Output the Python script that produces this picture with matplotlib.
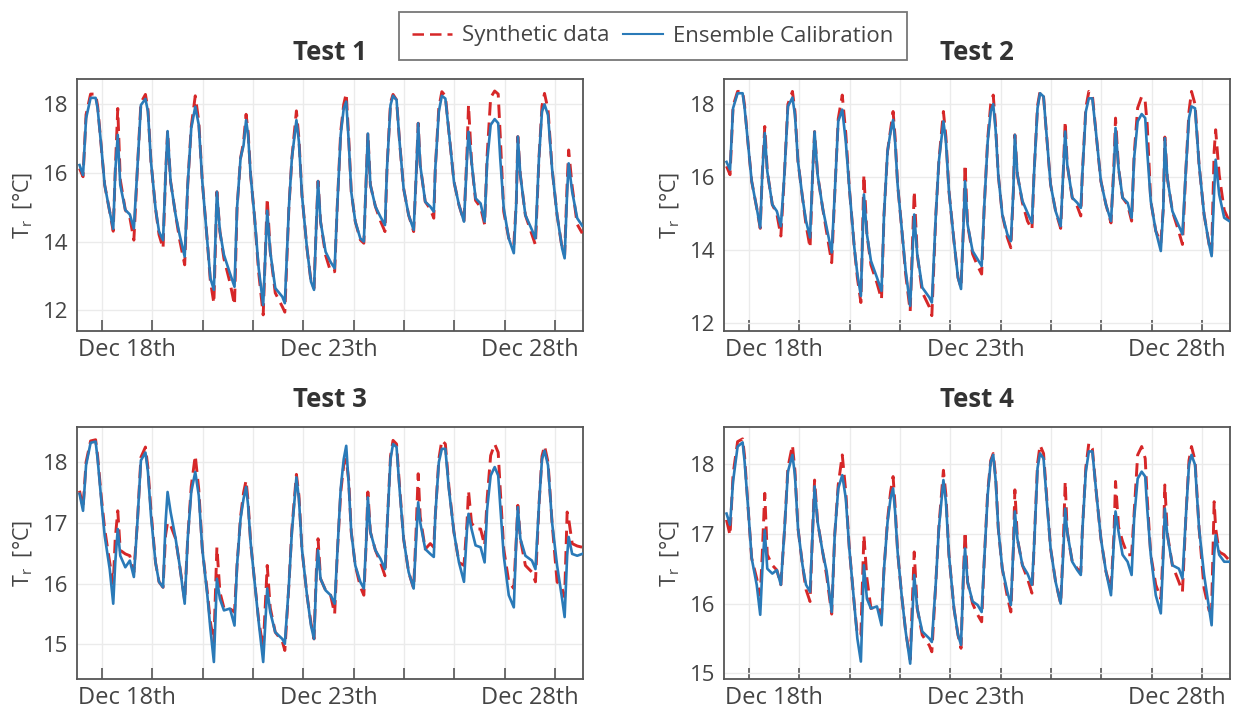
import matplotlib.pyplot as plt
from matplotlib.lines import Line2D

plt.rcParams['font.family'] = ['Open Sans', 'DejaVu Sans']
plt.rcParams['mathtext.default'] = 'regular'

# -----------------------------
# Data: room temperature, one reading list per series
# time in days, integer values sit on the daily grid lines
# -----------------------------
t_days = [
    -0.45, -0.38, -0.32, -0.23, -0.13, -0.09, -0.02,
    0.05, 0.15, 0.22, 0.26, 0.31, 0.36, 0.46, 0.55, 0.63, 0.70, 0.77, 0.86, 0.91, 0.97,
    1.06, 1.13, 1.21, 1.26, 1.30, 1.36, 1.46, 1.54, 1.64, 1.70, 1.77, 1.85, 1.92, 1.99,
    2.09, 2.15, 2.22, 2.28, 2.34, 2.42, 2.54, 2.63, 2.68, 2.75, 2.81, 2.86, 2.90, 2.95,
    3.03, 3.11, 3.20, 3.28, 3.34, 3.44, 3.58, 3.63, 3.71, 3.77, 3.86, 3.91, 3.97,
    4.07, 4.15, 4.21, 4.26, 4.29, 4.34, 4.44, 4.54, 4.62, 4.67, 4.74, 4.80, 4.85, 4.90, 4.95,
    5.03, 5.13, 5.20, 5.25, 5.28, 5.33, 5.43, 5.53, 5.62, 5.66, 5.73, 5.78, 5.85, 5.91, 5.99,
    6.09, 6.19, 6.24, 6.28, 6.32, 6.42, 6.52, 6.59, 6.62, 6.69, 6.75, 6.82, 6.89, 6.99,
    7.09, 7.19, 7.25, 7.28, 7.34, 7.42, 7.52, 7.60, 7.65, 7.72, 7.80, 7.87, 7.91, 7.98,
    8.08, 8.18, 8.23, 8.26, 8.31, 8.41, 8.54, 8.61, 8.68, 8.74, 8.79, 8.86, 8.94,
    9.04, 9.14, 9.19, 9.24, 9.27, 9.34, 9.44, 9.54,
]

test1_synthetic = [
    16.13, 15.89, 17.70, 18.30, 18.30, 17.95, 16.81,
    15.65, 14.87, 14.30, 16.04, 17.88, 15.80, 14.92, 14.70, 14.04, 16.13, 18.05, 18.29, 17.85, 16.33,
    14.97, 14.20, 13.80, 15.94, 17.22, 15.75, 14.77, 14.05, 13.32, 15.65, 17.35, 18.25, 17.50, 15.75,
    14.00, 12.85, 12.20, 15.45, 14.29, 13.50, 12.80, 12.15, 14.97, 16.43, 16.90, 17.71, 17.20, 15.94,
    14.68, 13.10, 11.86, 15.26, 13.70, 12.50, 12.10, 11.94, 14.97, 16.43, 17.81, 17.00, 15.36,
    13.80, 12.83, 12.64, 14.68, 15.76, 14.58, 13.60, 13.12, 13.12, 14.97, 17.20, 18.00, 18.32, 17.00, 15.45,
    14.58, 14.05, 13.95, 15.94, 17.15, 15.65, 15.02, 14.60, 14.29, 16.13, 18.05, 18.29, 18.13, 16.91, 15.55,
    14.77, 14.29, 15.94, 17.45, 16.23, 15.16, 14.95, 14.68, 16.13, 17.90, 18.37, 18.25, 17.20, 15.75,
    15.07, 14.58, 16.60, 17.98, 16.33, 15.20, 15.00, 14.50, 16.50, 18.20, 18.39, 18.30, 17.11, 14.87,
    14.09, 13.90, 15.16, 17.06, 15.94, 14.77, 14.20, 13.90, 16.43, 17.95, 18.32, 17.85, 16.13,
    14.77, 13.80, 13.60, 15.70, 16.67, 15.60, 14.50, 14.24,
]
test1_ensemble = [
    16.23, 15.94, 17.59, 18.19, 18.19, 17.88, 16.81,
    15.65, 14.87, 14.37, 16.04, 17.11, 15.65, 14.92, 14.79, 14.38, 16.13, 17.98, 18.16, 17.79, 16.33,
    14.97, 14.29, 14.04, 15.94, 17.22, 15.75, 14.77, 14.19, 13.56, 15.65, 17.30, 17.93, 17.40, 15.75,
    14.00, 12.93, 12.59, 15.45, 14.29, 13.61, 13.07, 12.68, 14.97, 16.43, 16.81, 17.54, 17.11, 15.94,
    14.68, 13.22, 12.15, 14.90, 13.70, 12.64, 12.39, 12.20, 14.97, 16.43, 17.54, 16.91, 15.36,
    13.80, 12.83, 12.59, 14.68, 15.76, 14.58, 13.70, 13.40, 13.22, 14.97, 17.11, 17.88, 18.08, 16.91, 15.45,
    14.58, 14.09, 14.00, 15.94, 17.15, 15.65, 15.02, 14.72, 14.48, 16.13, 17.98, 18.25, 18.13, 16.91, 15.55,
    14.77, 14.34, 15.94, 17.45, 16.23, 15.16, 15.02, 14.87, 16.13, 17.79, 18.25, 18.17, 17.20, 15.75,
    15.07, 14.58, 16.43, 17.20, 16.33, 15.26, 15.11, 14.58, 16.33, 17.40, 17.57, 17.45, 16.43, 14.97,
    14.09, 13.66, 15.16, 17.06, 15.94, 14.77, 14.34, 14.09, 16.43, 17.79, 18.00, 17.69, 16.13,
    14.77, 13.80, 13.51, 15.45, 16.28, 15.45, 14.68, 14.46,
]

test2_synthetic = [
    16.30, 16.07, 17.95, 18.35, 18.35, 17.95, 16.89,
    15.89, 15.16, 14.60, 16.07, 17.39, 16.16, 15.25, 15.00, 14.39, 16.07, 18.00, 18.35, 17.80, 16.44,
    15.44, 14.70, 14.07, 16.07, 17.25, 16.07, 15.16, 14.50, 13.66, 15.53, 17.60, 18.25, 17.20, 15.71,
    14.07, 13.25, 12.57, 16.07, 14.44, 13.60, 13.10, 12.66, 14.98, 16.71, 17.30, 17.80, 17.10, 15.80,
    14.62, 13.35, 12.33, 15.62, 13.89, 12.85, 12.45, 12.21, 14.98, 16.44, 17.80, 17.10, 15.62,
    14.25, 13.25, 12.98, 14.71, 16.35, 14.71, 13.90, 13.57, 13.35, 15.16, 17.05, 18.00, 18.25, 17.35, 16.07,
    14.98, 14.35, 14.07, 15.62, 17.16, 16.07, 15.30, 14.80, 14.57, 16.07, 17.95, 18.35, 18.21, 17.16, 15.80,
    15.07, 14.60, 16.07, 17.53, 16.35, 15.44, 15.20, 14.94, 16.07, 17.90, 18.35, 18.25, 17.25, 15.89,
    15.25, 14.75, 16.40, 17.62, 16.25, 15.44, 15.25, 14.80, 16.60, 17.90, 18.21, 18.07, 17.44, 15.35,
    14.53, 14.20, 15.16, 17.10, 15.98, 15.07, 14.50, 14.16, 16.25, 17.80, 18.35, 18.00, 16.35,
    14.98, 14.16, 13.90, 16.71, 17.30, 16.07, 15.10, 14.80,
]
test2_ensemble = [
    16.42, 16.21, 17.89, 18.30, 18.30, 17.89, 16.89,
    15.89, 15.16, 14.62, 16.07, 17.21, 16.16, 15.25, 15.07, 14.66, 16.07, 17.94, 18.18, 17.71, 16.44,
    15.44, 14.80, 14.35, 16.07, 17.25, 16.07, 15.16, 14.62, 13.94, 15.53, 17.53, 17.85, 16.98, 15.71,
    14.07, 13.35, 12.75, 15.53, 14.44, 13.71, 13.25, 12.89, 14.98, 16.71, 17.25, 17.57, 16.98, 15.80,
    14.62, 13.44, 12.48, 14.98, 13.89, 12.98, 12.71, 12.57, 14.98, 16.44, 17.53, 16.98, 15.62,
    14.25, 13.25, 12.94, 14.71, 15.89, 14.71, 13.98, 13.75, 13.57, 15.16, 16.98, 17.80, 18.00, 17.25, 16.07,
    14.98, 14.44, 14.25, 15.62, 17.16, 16.07, 15.35, 15.03, 14.75, 16.07, 17.89, 18.30, 18.21, 17.16, 15.80,
    15.07, 14.66, 16.07, 17.25, 16.35, 15.44, 15.30, 15.16, 16.07, 17.80, 18.16, 18.16, 17.25, 15.89,
    15.25, 14.80, 16.25, 17.35, 16.25, 15.44, 15.30, 14.89, 16.53, 17.53, 17.73, 17.62, 16.71, 15.35,
    14.53, 13.98, 15.16, 17.07, 15.98, 15.07, 14.66, 14.44, 16.25, 17.62, 17.94, 17.89, 16.35,
    14.98, 14.16, 13.84, 15.62, 16.48, 15.53, 14.89, 14.80,
]

test3_synthetic = [
    17.53, 17.25, 18.00, 18.35, 18.37, 18.10, 17.45,
    16.90, 16.35, 16.00, 16.74, 17.20, 16.55, 16.49, 16.46, 16.19, 17.01, 18.08, 18.25, 17.90, 17.20,
    16.35, 16.03, 15.94, 16.80, 17.01, 16.96, 16.74, 16.30, 15.72, 16.74, 17.60, 18.11, 17.55, 16.57,
    15.86, 15.37, 15.04, 16.60, 15.86, 15.60, 15.59, 15.53, 16.30, 17.10, 17.50, 17.70, 17.35, 16.68,
    16.03, 15.40, 14.93, 16.30, 15.60, 15.20, 15.05, 14.90, 15.97, 16.90, 17.80, 17.45, 16.57,
    15.81, 15.35, 15.09, 16.30, 16.74, 16.08, 15.89, 15.81, 15.50, 16.46, 17.50, 17.95, 18.05, 17.70, 16.85,
    16.30, 15.95, 15.81, 16.74, 17.51, 16.85, 16.55, 16.35, 16.13, 16.90, 18.10, 18.36, 18.30, 17.60, 16.74,
    16.19, 15.92, 16.90, 17.81, 17.10, 16.57, 16.66, 16.60, 17.12, 18.05, 18.36, 18.30, 17.60, 16.85,
    16.35, 16.30, 17.00, 17.53, 17.00, 16.90, 16.90, 16.63, 17.40, 18.11, 18.30, 18.16, 17.56, 16.57,
    16.03, 15.92, 16.74, 17.29, 16.74, 16.30, 16.19, 16.03, 17.29, 18.10, 18.27, 18.00, 17.01,
    16.03, 15.92, 15.78, 17.18, 17.07, 16.66, 16.62, 16.60,
]
test3_ensemble = [
    17.48, 17.20, 17.95, 18.32, 18.34, 18.05, 17.40,
    16.79, 16.24, 15.67, 16.35, 16.90, 16.46, 16.27, 16.38, 16.11, 17.01, 18.03, 18.16, 17.84, 17.12,
    16.35, 16.03, 15.94, 17.01, 17.51, 17.18, 16.74, 16.30, 15.67, 16.74, 17.51, 17.84, 17.45, 16.57,
    15.81, 15.26, 14.71, 16.08, 15.75, 15.56, 15.59, 15.31, 16.30, 17.07, 17.40, 17.59, 17.29, 16.68,
    16.03, 15.37, 14.71, 15.92, 15.53, 15.20, 15.09, 15.01, 15.97, 16.85, 17.75, 17.40, 16.57,
    15.81, 15.31, 15.09, 16.19, 16.55, 16.08, 15.89, 15.81, 15.67, 16.46, 17.56, 18.05, 18.27, 17.62, 16.85,
    16.30, 16.03, 15.92, 16.74, 17.42, 16.85, 16.55, 16.41, 16.24, 16.90, 18.05, 18.30, 18.25, 17.56, 16.74,
    16.19, 15.92, 16.74, 17.34, 17.01, 16.57, 16.49, 16.44, 17.12, 18.00, 18.22, 18.22, 17.56, 16.85,
    16.35, 16.03, 16.90, 17.15, 16.90, 16.63, 16.60, 16.35, 17.23, 17.78, 17.92, 17.78, 17.29, 16.46,
    15.81, 15.61, 16.74, 17.26, 16.74, 16.46, 16.38, 16.24, 17.29, 18.05, 18.19, 17.95, 17.01,
    16.30, 15.75, 15.45, 16.46, 16.77, 16.49, 16.46, 16.49,
]

test4_synthetic = [
    17.20, 16.98, 17.85, 18.32, 18.36, 18.10, 17.36,
    16.65, 16.36, 16.12, 16.70, 17.58, 16.70, 16.55, 16.48, 16.27, 17.03, 17.95, 18.27, 17.90, 17.08,
    16.55, 16.20, 16.03, 17.03, 17.77, 17.17, 16.74, 16.40, 15.85, 16.98, 17.70, 18.13, 17.60, 16.79,
    15.98, 15.55, 15.55, 16.98, 16.36, 15.93, 15.96, 15.84, 16.50, 17.20, 17.60, 17.82, 17.40, 16.74,
    16.12, 15.60, 15.20, 16.74, 15.93, 15.55, 15.40, 15.31, 16.31, 17.10, 17.91, 17.55, 16.70,
    15.93, 15.55, 15.36, 16.46, 17.03, 16.31, 16.00, 15.84, 15.74, 16.60, 17.60, 18.05, 18.15, 17.80, 17.08,
    16.50, 16.10, 15.88, 16.79, 17.63, 16.93, 16.55, 16.36, 16.15, 16.79, 18.00, 18.27, 18.15, 17.55, 16.79,
    16.31, 16.00, 16.80, 17.75, 17.03, 16.60, 16.50, 16.45, 17.03, 17.95, 18.30, 18.22, 17.65, 16.93,
    16.46, 16.20, 17.00, 17.75, 17.10, 16.89, 16.70, 16.70, 17.30, 18.13, 18.25, 18.08, 17.50, 16.70,
    16.27, 16.07, 16.80, 17.70, 17.00, 16.55, 16.31, 16.17, 17.27, 18.05, 18.25, 18.05, 17.08,
    16.22, 15.90, 15.93, 17.46, 17.08, 16.74, 16.70, 16.62,
]
test4_ensemble = [
    17.29, 17.13, 17.75, 18.25, 18.31, 18.03, 17.36,
    16.65, 16.27, 15.84, 16.46, 17.05, 16.50, 16.43, 16.48, 16.27, 17.03, 17.89, 18.13, 17.84, 17.08,
    16.55, 16.27, 16.17, 17.03, 17.68, 17.17, 16.74, 16.46, 15.88, 16.98, 17.65, 17.84, 17.51, 16.79,
    15.98, 15.50, 15.17, 16.55, 16.07, 15.93, 15.96, 15.69, 16.50, 17.17, 17.51, 17.65, 17.32, 16.74,
    16.12, 15.60, 15.14, 16.41, 15.93, 15.60, 15.50, 15.45, 16.31, 17.08, 17.77, 17.46, 16.70,
    15.93, 15.55, 15.41, 16.46, 16.79, 16.31, 16.03, 15.98, 15.88, 16.60, 17.56, 18.03, 18.13, 17.75, 17.08,
    16.50, 16.17, 15.98, 16.79, 17.32, 16.93, 16.55, 16.43, 16.27, 16.79, 17.94, 18.15, 18.08, 17.51, 16.79,
    16.31, 16.00, 16.70, 17.36, 17.03, 16.60, 16.48, 16.41, 17.03, 17.89, 18.18, 18.18, 17.65, 16.93,
    16.46, 16.12, 16.93, 17.32, 17.03, 16.70, 16.60, 16.41, 17.22, 17.79, 17.89, 17.82, 17.36, 16.70,
    16.12, 15.86, 16.70, 17.36, 16.98, 16.55, 16.50, 16.36, 17.27, 17.99, 18.13, 17.99, 17.08,
    16.41, 15.93, 15.69, 16.70, 16.98, 16.70, 16.60, 16.60,
]

titles = ["Test 1", "Test 2", "Test 3", "Test 4"]
synthetic = [test1_synthetic, test2_synthetic, test3_synthetic, test4_synthetic]
ensemble = [test1_ensemble, test2_ensemble, test3_ensemble, test4_ensemble]
y_limits = [(11.39, 18.74), (11.79, 18.69), (14.43, 18.58), (14.92, 18.53)]
y_ticks = [[12, 14, 16, 18], [12, 14, 16, 18], [15, 16, 17, 18], [15, 16, 17, 18]]

day_ticks = list(range(10))
date_labels = ["Dec 18th", "Dec 23th", "Dec 28th"]
date_label_pos = [0.5, 4.5, 8.5]

# -----------------------------
# Style
# -----------------------------
RED = "#d62728"
BLUE = "#2a7ab8"
TEXT = "#444444"
FRAME = "#555555"
GRID = "#ebebeb"

W, H = 1239, 713
fig = plt.figure(figsize=(W / 100, H / 100), dpi=100)

# axes boxes in pixels: left, top, width, height
boxes = [(77, 79, 506, 252), (724, 79, 506, 252),
         (77, 427, 506, 252), (724, 427, 506, 252)]

for i, (x0, y0, w, h) in enumerate(boxes):
    ax = fig.add_axes([x0 / W, 1 - (y0 + h) / H, w / W, h / H])

    ax.plot(t_days, synthetic[i], color=RED, lw=2.1, dashes=(4.6, 2.4), zorder=3)
    ax.plot(t_days, ensemble[i], color=BLUE, lw=1.9, zorder=4)

    ax.set_xlim(-0.5, 9.555)
    ax.set_ylim(*y_limits[i])

    # daily tick marks + grid, date labels centred between ticks
    ax.set_xticks(day_ticks)
    ax.set_xticklabels([])
    ax.set_xticks(date_label_pos, minor=True)
    ax.set_xticklabels(date_labels, minor=True)
    ax.tick_params(axis="x", which="major", direction="in", length=8,
                   width=1.2, color=FRAME)
    ax.tick_params(axis="x", which="minor", length=0, pad=5,
                   labelsize=17, labelcolor=TEXT)

    ax.set_yticks(y_ticks[i])
    ax.tick_params(axis="y", length=0, pad=6, labelsize=16, labelcolor=TEXT)

    ax.grid(True, which="major", color=GRID, lw=1.0, zorder=0)
    ax.set_axisbelow(True)

    for spine in ax.spines.values():
        spine.set_color(FRAME)
        spine.set_linewidth(1.3)

    # right edge of the rotated label sits ~42 px left of the frame
    ax.set_ylabel("T$_{r}$  [°C]", fontsize=15.5, color=TEXT)
    ax.yaxis.set_label_coords(-42 / w, 0.5)

    ax.text(0.5, 1 + 27 / h, titles[i], transform=ax.transAxes,
            ha="center", va="center", fontsize=18.5, fontweight="bold",
            color="#333333")

# -----------------------------
# Shared legend
# -----------------------------
handles = [
    Line2D([], [], color=RED, lw=1.8, dashes=(4.6, 2.4)),
    Line2D([], [], color=BLUE, lw=1.5),
]
leg = fig.legend(handles, ["Synthetic data", "Ensemble Calibration"],
                 loc="center", bbox_to_anchor=(653 / W, 1 - 36 / H), ncol=2,
                 fontsize=16, frameon=True, fancybox=False,
                 handlelength=1.8, handletextpad=0.45, columnspacing=0.6,
                 borderpad=0.6, labelcolor=TEXT)
leg.get_frame().set_edgecolor(FRAME)
leg.get_frame().set_linewidth(1.3)

fig.savefig("out.png", dpi=100)
